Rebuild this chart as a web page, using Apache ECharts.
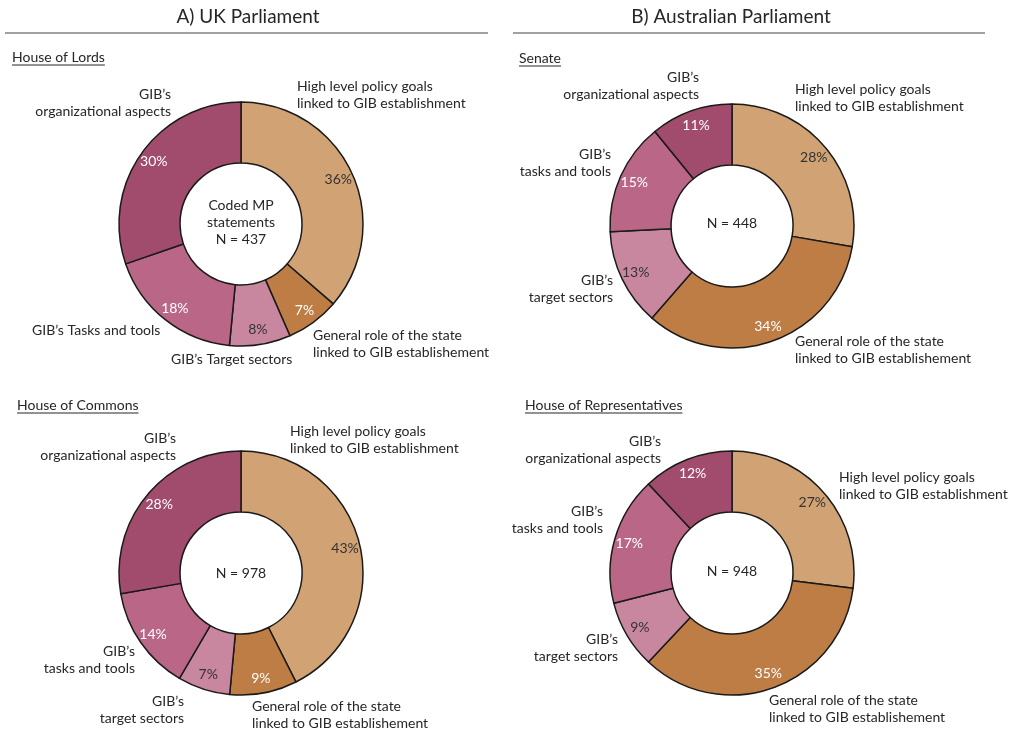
<!DOCTYPE html>
<html>
<head>
<meta charset="utf-8">
<script src="https://cdn.jsdelivr.net/npm/echarts@6/dist/echarts.min.js"></script>
<style>
  html, body { margin: 0; padding: 0; background: #fff; }
  #chart { width: 1011px; height: 733px; }
</style>
</head>
<body>
<div id="chart"></div>
<script>
// slice order, clockwise from 12 o'clock
var categories = [
  'High level policy goals linked to GIB establishment',
  'General role of the state linked to GIB establishement',
  "GIB's target sectors",
  "GIB's tasks and tools",
  "GIB's organizational aspects"
];
var lordsValues   = [36, 7, 8, 18, 30];
var commonsValues = [43, 9, 7, 14, 28];
var senateValues  = [28, 34, 13, 15, 11];
var repsValues    = [27, 35, 9, 17, 12];

var sliceColors = ['#D1A274', '#BE7D45', '#C9879F', '#BA6787', '#A14B6D'];
var pctColors   = ['#333333', '#ffffff', '#333333', '#ffffff', '#ffffff'];

var FONT = 'Lato, "Open Sans", sans-serif';

var chart = echarts.init(document.getElementById('chart'));

function pieSeries(name, values, cx, cy) {
  return {
    name: name,
    type: 'pie',
    center: [cx, cy],
    radius: [61, 122],
    startAngle: 90,
    clockwise: true,
    silent: true,
    itemStyle: { borderColor: '#1a1a1a', borderWidth: 1.5 },
    label: { show: false },
    labelLine: { show: false },
    emphasis: { disabled: true },
    data: values.map(function (v, i) {
      return { name: categories[i], value: v, itemStyle: { color: sliceColors[i] } };
    })
  };
}

// invisible ring used only to place the % labels a bit outside mid-ring
function pctSeries(values, cx, cy) {
  return {
    type: 'pie',
    center: [cx, cy],
    radius: [86, 122],
    startAngle: 90,
    clockwise: true,
    silent: true,
    itemStyle: { color: 'rgba(0,0,0,0)', borderWidth: 0 },
    label: {
      show: true,
      position: 'inside',
      rotate: 0,
      fontFamily: FONT,
      fontSize: 14,
      formatter: '{c}%'
    },
    labelLine: { show: false },
    emphasis: { disabled: true },
    data: values.map(function (v, i) {
      return { name: categories[i], value: v, label: { color: pctColors[i] } };
    })
  };
}

// text helper for the annotations round each donut
function txt(x, y, text, align, size) {
  return {
    type: 'text',
    x: x, y: y,
    silent: true,
    style: {
      text: text,
      fill: '#262626',
      font: (size || 14) + 'px ' + FONT,
      align: align || 'left',
      verticalAlign: 'middle',
      lineHeight: 17
    }
  };
}

var measureCtx = document.createElement('canvas').getContext('2d');
function underlined(x, y, text) {
  measureCtx.font = '14px ' + FONT;
  var w = measureCtx.measureText(text).width;
  return [
    txt(x, y, text, 'left'),
    { type: 'line', silent: true, shape: { x1: x, y1: y + 8, x2: x + w, y2: y + 8 },
      style: { stroke: '#262626', lineWidth: 1 } }
  ];
}

function hline(x1, x2, y) {
  return { type: 'line', silent: true, shape: { x1: x1, y1: y, x2: x2, y2: y },
    style: { stroke: '#444', lineWidth: 1.2 } };
}

var graphics = [
  txt(248, 17, 'A) UK Parliament', 'center', 19),
  txt(731, 17, 'B) Australian Parliament', 'center', 19),
  hline(5, 488, 33),
  hline(513, 985, 33)
]
  .concat(underlined(12, 57, 'House of Lords'))
  .concat(underlined(519, 58, 'Senate'))
  .concat(underlined(17, 405, 'House of Commons'))
  .concat(underlined(525, 405, 'House of Representatives'))
  .concat([
    // House of Lords
    txt(241, 222, 'Coded MP\nstatements\nN = 437', 'center'),
    txt(171, 103, "GIB\u2019s\norganizational aspects", 'right'),
    txt(297, 95, 'High level policy goals\nlinked to GIB establishment', 'left'),
    txt(313, 344, 'General role of the state\nlinked to GIB establishement', 'left'),
    txt(171, 359, "GIB\u2019s Target sectors", 'left'),
    txt(32, 330, "GIB\u2019s Tasks and tools", 'left'),
    // Senate
    txt(732, 223, 'N = 448', 'center'),
    txt(699, 86, "GIB\u2019s\norganizational aspects", 'right'),
    txt(795, 98, 'High level policy goals\nlinked to GIB establishment', 'left'),
    txt(611, 163, "GIB\u2019s\ntasks and tools", 'right'),
    txt(613, 289, "GIB\u2019s\ntarget sectors", 'right'),
    txt(795, 350, 'General role of the state\nlinked to GIB establishement', 'left'),
    // House of Commons
    txt(241, 573, 'N = 978', 'center'),
    txt(176, 447, "GIB\u2019s\norganizational aspects", 'right'),
    txt(290, 440, 'High level policy goals\nlinked to GIB establishment', 'left'),
    txt(135, 660, "GIB\u2019s\ntasks and tools", 'right'),
    txt(184, 710, "GIB\u2019s\ntarget sectors", 'right'),
    txt(252, 715, 'General role of the state\nlinked to GIB establishement', 'left'),
    // House of Representatives
    txt(732, 571, 'N = 948', 'center'),
    txt(661, 450, "GIB\u2019s\norganizational aspects", 'right'),
    txt(839, 486, 'High level policy goals\nlinked to GIB establishment', 'left'),
    txt(603, 520, "GIB\u2019s\ntasks and tools", 'right'),
    txt(618, 648, "GIB\u2019s\ntarget sectors", 'right'),
    txt(769, 709, 'General role of the state\nlinked to GIB establishement', 'left')
  ]);

chart.setOption({
  animation: false,
  backgroundColor: '#ffffff',
  graphic: graphics,
  series: [
    pieSeries('House of Lords', lordsValues, 241, 224),
    pieSeries('Senate', senateValues, 732, 226),
    pieSeries('House of Commons', commonsValues, 241, 573),
    pieSeries('House of Representatives', repsValues, 732, 573),
    pctSeries(lordsValues, 241, 224),
    pctSeries(senateValues, 732, 226),
    pctSeries(commonsValues, 241, 573),
    pctSeries(repsValues, 732, 573)
  ]
});
</script>
</body>
</html>
